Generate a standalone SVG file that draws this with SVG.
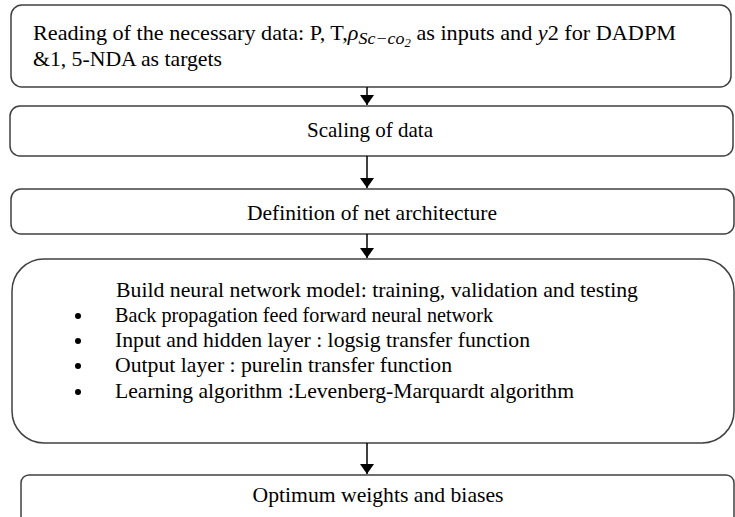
<svg xmlns="http://www.w3.org/2000/svg" width="735" height="517" viewBox="0 0 735 517">
<style>
.box{fill:#fff;stroke:#404040;stroke-width:1.5}
.t{font-family:"Liberation Serif","Times New Roman",serif;font-size:21px;fill:#000}
.c{text-anchor:middle}
.m{font-style:italic}
.conn line{stroke:#000;stroke-width:1.5}
</style>
<defs>
<marker id="ah" viewBox="0 0 10 14" refX="10" refY="7" markerWidth="10" markerHeight="14" markerUnits="userSpaceOnUse" orient="auto">
<path d="M0,0 L10,7 L0,14 Z" fill="#000"/>
</marker>
</defs>
<rect width="735" height="517" fill="#fff"/>
<g id="n1">
<rect class="box" x="11" y="5" width="720" height="82" rx="11"/>
<text class="t" x="33" y="40" textLength="643" lengthAdjust="spacingAndGlyphs">Reading of the necessary data: P, T,<tspan class="m">ρ</tspan><tspan class="m" font-size="17" dy="4">Sc−co</tspan><tspan class="m" font-size="12" dy="3">2</tspan><tspan dy="-7"> as inputs and </tspan><tspan class="m">y</tspan>2 for DADPM</text>
<text class="t" x="33" y="66" textLength="189" lengthAdjust="spacingAndGlyphs">&amp;1, 5-NDA as targets</text>
</g>
<g id="n2">
<rect class="box" x="10" y="106" width="723" height="50" rx="10"/>
<text class="t c" x="370" y="137">Scaling of data</text>
</g>
<g id="n3">
<rect class="box" x="11" y="189" width="723" height="45" rx="10"/>
<text class="t c" x="372" y="220" textLength="250" lengthAdjust="spacingAndGlyphs">Definition of net architecture</text>
</g>
<g id="n4">
<rect class="box" x="12" y="259" width="722" height="184" rx="32"/>
<text class="t" x="116" y="297" textLength="522" lengthAdjust="spacingAndGlyphs">Build neural network model: training, validation and testing</text>
<circle cx="78" cy="316" r="3"/>
<text class="t" x="115" y="322" textLength="378" lengthAdjust="spacingAndGlyphs">Back propagation feed forward neural network</text>
<circle cx="78" cy="341" r="3"/>
<text class="t" x="115" y="347" textLength="415" lengthAdjust="spacingAndGlyphs">Input and hidden layer : logsig transfer function</text>
<circle cx="78" cy="366" r="3"/>
<text class="t" x="115" y="372" textLength="337" lengthAdjust="spacingAndGlyphs">Output layer : purelin transfer function</text>
<circle cx="78" cy="392" r="3"/>
<text class="t" x="115" y="398" textLength="459" lengthAdjust="spacingAndGlyphs">Learning algorithm :Levenberg-Marquardt algorithm</text>
</g>
<g id="n5">
<rect class="box" x="21" y="475" width="713" height="50" rx="8"/>
<text class="t c" x="378" y="502" textLength="251" lengthAdjust="spacingAndGlyphs">Optimum weights and biases</text>
</g>
<g id="connectors" class="conn">
<line x1="367" y1="87" x2="367" y2="105" marker-end="url(#ah)"/>
<line x1="367" y1="156" x2="367" y2="188" marker-end="url(#ah)"/>
<line x1="367" y1="234" x2="367" y2="258" marker-end="url(#ah)"/>
<line x1="367" y1="443" x2="367" y2="474" marker-end="url(#ah)"/>
</g>
</svg>
